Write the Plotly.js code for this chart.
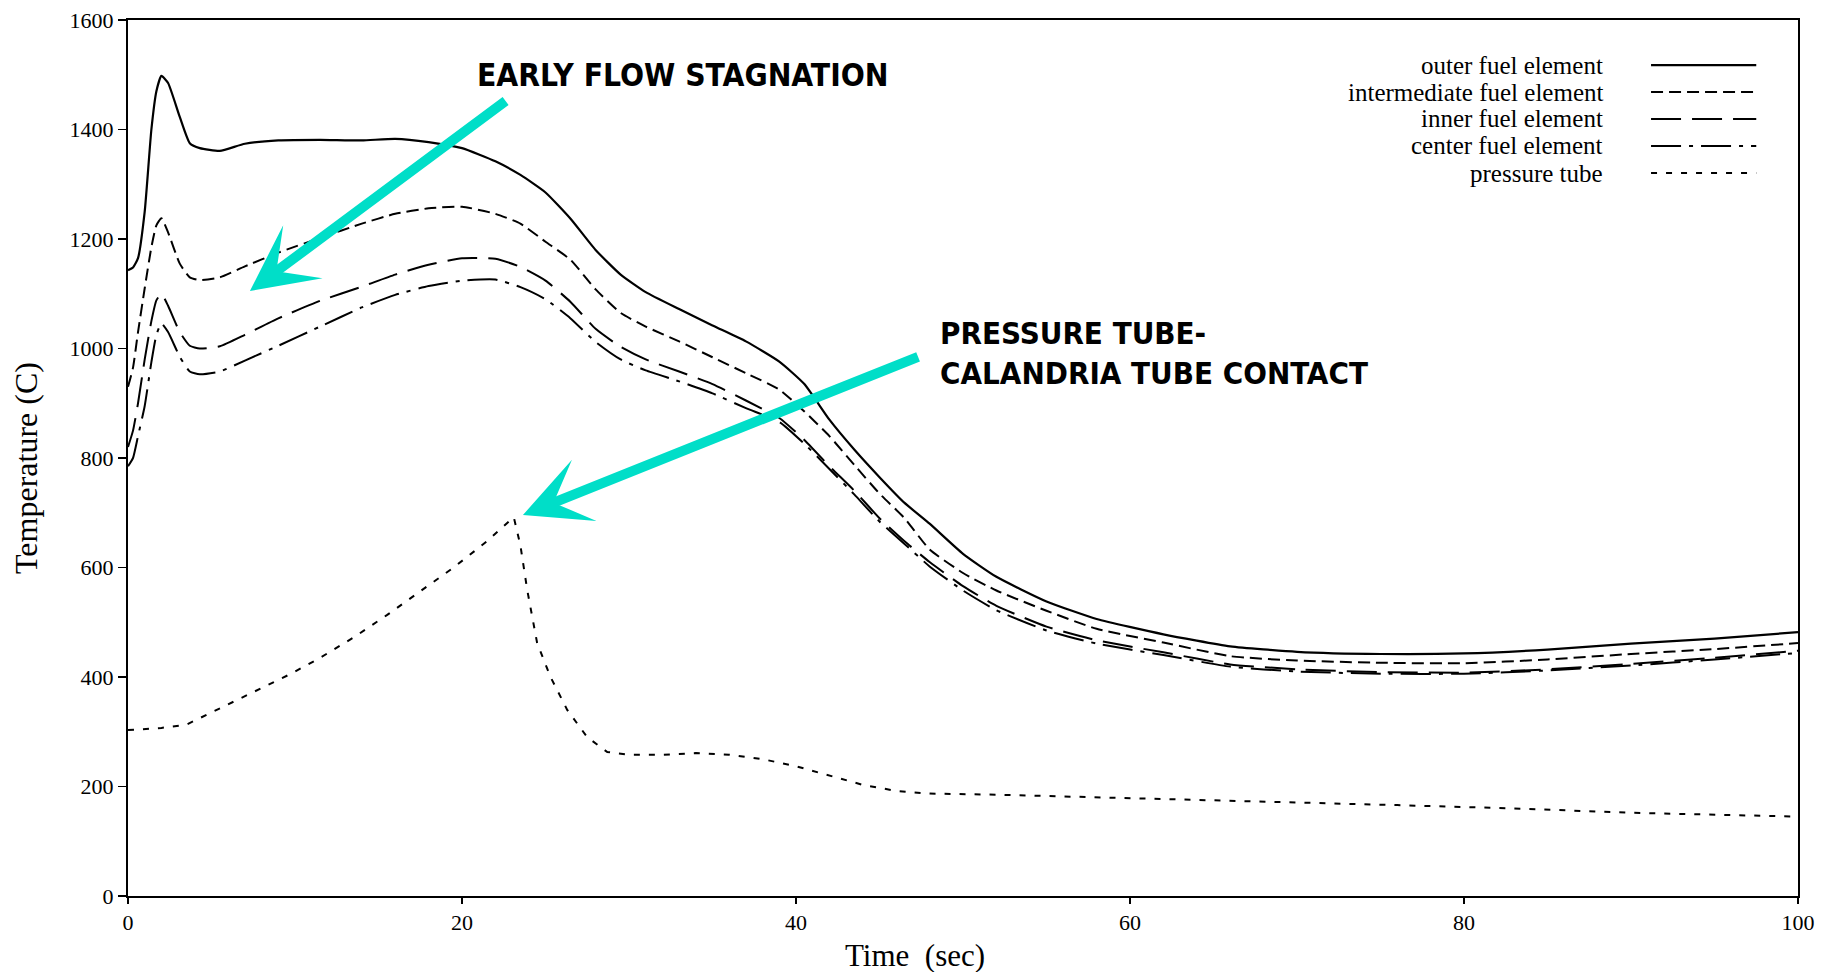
<!DOCTYPE html>
<html>
<head>
<meta charset="utf-8">
<script src="https://cdn.plot.ly/plotly-3.0.1.min.js"></script>
<style>html,body{margin:0;padding:0;background:#fff;}#chart{width:1826px;height:972px;}</style>
</head>
<body>
<div id="chart"></div>
<script>
// ---- data ----
const time = [0, 0.3, 0.6, 1.0, 1.4, 1.7, 2.0, 2.4, 3.1, 3.7, 4.3, 5.5, 7, 9, 11.5, 14, 16, 18, 20, 22, 23.5, 25, 26.5, 28, 29.5, 31, 33, 35, 37, 39, 40.5, 42, 43.5, 45, 46.5, 48, 50, 52, 55, 58, 62, 66, 70, 75, 80, 85, 90, 95, 100];

const outerFuel = [1143, 1148, 1165, 1250, 1400, 1470, 1498, 1485, 1423, 1375, 1366, 1361, 1374, 1380, 1381, 1380, 1383, 1377, 1366, 1342, 1317, 1285, 1237, 1180, 1135, 1103, 1072, 1042, 1013, 976, 935, 870, 815, 765, 718, 680, 625, 583, 538, 506, 478, 456, 446, 442, 443, 450, 461, 470, 482];

const intermediateFuel = [930, 965, 1030, 1110, 1185, 1225, 1238, 1212, 1155, 1130, 1125, 1130, 1150, 1175, 1202, 1228, 1246, 1256, 1259, 1246, 1228, 1195, 1162, 1108, 1065, 1040, 1013, 984, 955, 925, 885, 840, 787, 735, 690, 633, 590, 558, 521, 488, 463, 438, 430, 426, 425, 432, 442, 451, 462];

const innerFuel = [820, 850, 900, 980, 1050, 1088, 1100, 1078, 1030, 1005, 1000, 1004, 1025, 1055, 1087, 1113, 1135, 1153, 1165, 1164, 1149, 1124, 1085, 1036, 1003, 980, 958, 935, 905, 873, 833, 785, 740, 690, 648, 610, 566, 530, 492, 467, 445, 423, 414, 409, 408, 414, 424, 435, 448];

const centerFuel = [785, 800, 840, 895, 975, 1025, 1046, 1030, 985, 958, 953, 958, 978, 1005, 1040, 1075, 1098, 1114, 1124, 1126, 1112, 1090, 1055, 1012, 980, 960, 940, 918, 891, 866, 826, 780, 733, 684, 643, 602, 558, 522, 485, 461, 440, 419, 410, 406, 406, 412, 421, 432, 444];

const ptTime = [0, 2, 3.5, 5.5, 7.5, 9.7, 11.5, 13.5, 15.5, 17.5, 19.5, 21.5, 23.1, 23.5, 23.9, 24.5, 25.3, 26.3, 27.5, 28.7, 30, 32, 34, 36, 38, 40, 42, 44, 46, 48, 52, 56, 62, 70, 76, 83, 90, 100];
const pressureTube = [303, 307, 313, 343, 373, 405, 435, 472, 513, 556, 600, 648, 692, 640, 560, 462, 400, 340, 290, 263, 258, 258, 261, 258, 250, 237, 220, 203, 192, 187, 185, 182, 177, 171, 166, 160, 152, 145];

const seriesNames = ["outer fuel element", "intermediate fuel element", "inner fuel element", "center fuel element", "pressure tube"];
const xTicks = [0, 20, 40, 60, 80, 100];
const xTickLabels = ["0", "20", "40", "60", "80", "100"];
const yTicks = [0, 200, 400, 600, 800, 1000, 1200, 1400, 1600];
const yTickLabels = ["0", "200", "400", "600", "800", "1000", "1200", "1400", "1600"];

// annotation arrows: [tip time, tip temp, tail time, tail temp]
const arrowStagnation = [7.3, 1105, 22.7, 1454];
const arrowContact = [23.65, 696, 47.4, 986];

// ---- styles ----
const dashes = ["solid", "12px,6px", "30px,11px", "30px,8px,4px,8px", "6px,9px"];
const widths = [2.2, 2, 2, 2, 2];
const shapesLine = ['spline', 'spline', 'spline', 'spline', 'linear'];
const ys = [outerFuel, intermediateFuel, innerFuel, centerFuel, pressureTube];
const xs = [time, time, time, time, ptTime];

const traces = ys.map((y, i) => ({
  type: 'scatter', mode: 'lines', x: xs[i], y: y, name: seriesNames[i],
  line: {color: 'black', width: widths[i], dash: dashes[i], shape: shapesLine[i], smoothing: 0.5},
  hoverinfo: 'skip'
}));

const serif = 'Liberation Serif, Times New Roman, serif';
const narrow = 'Liberation Sans Narrow, Arial Narrow, DejaVu Sans Condensed, Roboto, sans-serif';
const teal = '#00DEC8';

// legend rows (paper coords)
const legTextX = 0.8844, legX0 = 0.912, legX1 = 0.975;
const legRowsY = [0.9486, 0.9178, 0.887, 0.8562, 0.8253];

const annotations = [];
const shapes = [];
seriesNames.forEach((n, i) => {
  annotations.push({xref: 'paper', yref: 'paper', x: legTextX, y: legRowsY[i], xanchor: 'right', yanchor: 'middle',
    text: n, showarrow: false, font: {family: serif, size: 25, color: 'black'}});
  shapes.push({type: 'line', xref: 'paper', yref: 'paper', x0: legX0, x1: legX1, y0: legRowsY[i], y1: legRowsY[i],
    line: {color: 'black', width: widths[i], dash: dashes[i]}});
});

[arrowStagnation, arrowContact].forEach(a => {
  annotations.push({xref: 'x', yref: 'y', axref: 'x', ayref: 'y', x: a[0], y: a[1], ax: a[2], ay: a[3],
    text: '', showarrow: true, arrowhead: 3, arrowsize: 1.1, arrowwidth: 10, arrowcolor: teal, standoff: 0, startstandoff: 0});
});

annotations.push({xref: 'paper', yref: 'paper', x: 0.2078, y: 0.937, xanchor: 'left', yanchor: 'middle',
  text: '<b>EARLY FLOW STAGNATION</b>', showarrow: false, font: {family: narrow, size: 31.5, color: 'black'}});
annotations.push({xref: 'paper', yref: 'paper', x: 0.485, y: 0.6204, xanchor: 'left', yanchor: 'middle', align: 'left',
  text: '<b>PRESSURE TUBE-</b><br><b>CALANDRIA TUBE CONTACT</b>', showarrow: false, font: {family: narrow, size: 31, color: 'black'}});

// axis titles
annotations.push({xref: 'paper', yref: 'paper', x: 0.4713, y: -0.0674, xanchor: 'center', yanchor: 'middle',
  text: 'Time\u00a0 (sec)', showarrow: false, font: {family: serif, size: 31, color: 'black'}});
annotations.push({xref: 'paper', yref: 'paper', x: -0.0611, y: 0.4886, xanchor: 'center', yanchor: 'middle', textangle: -90,
  text: 'Temperature (C)', showarrow: false, font: {family: serif, size: 32, color: 'black'}});

const axisCommon = {showline: true, mirror: true, linecolor: 'black', linewidth: 2, ticks: 'outside', tickcolor: 'black',
  tickwidth: 1.5, showgrid: false, zeroline: false, tickfont: {family: serif, size: 22, color: 'black'}};

const layout = {
  width: 1826, height: 972,
  margin: {l: 128, r: 28, t: 20, b: 76},
  paper_bgcolor: 'white', plot_bgcolor: 'white',
  showlegend: false,
  xaxis: Object.assign({}, axisCommon, {range: [0, 100], tickvals: xTicks, ticktext: xTickLabels, ticklen: 6}),
  yaxis: Object.assign({}, axisCommon, {range: [0, 1600], tickvals: yTicks, ticktext: yTickLabels, ticklen: 8}),
  annotations: annotations,
  shapes: shapes
};

Plotly.newPlot('chart', traces, layout, {displayModeBar: false, staticPlot: true});
</script>
</body>
</html>
